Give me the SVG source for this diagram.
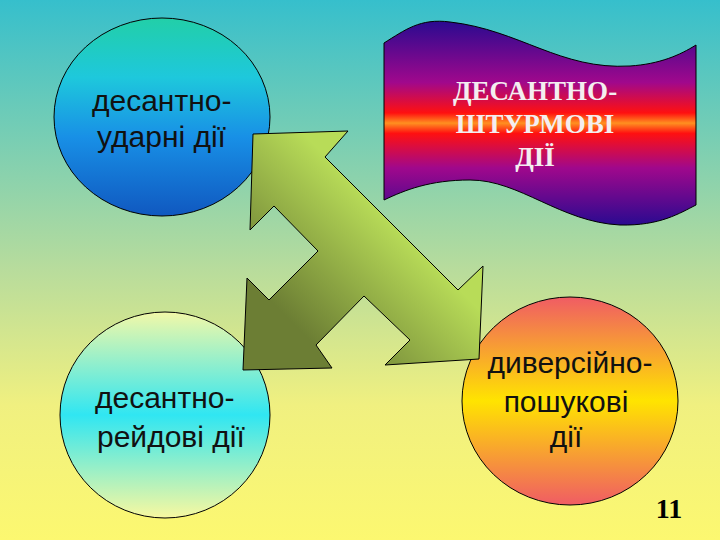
<svg xmlns="http://www.w3.org/2000/svg" width="720" height="540" viewBox="0 0 720 540">
<defs>
<linearGradient id="bg" x1="0" y1="0" x2="0" y2="1"><stop offset="0" stop-color="#36bfcc"/><stop offset="0.5" stop-color="#b8dc9c"/><stop offset="0.75" stop-color="#f0f080"/><stop offset="1" stop-color="#fcf870"/></linearGradient>
<linearGradient id="c1" x1="0" y1="0" x2="0" y2="1"><stop offset="0" stop-color="#22cfa8"/><stop offset="0.3" stop-color="#1ec8dc"/><stop offset="0.6" stop-color="#1890e6"/><stop offset="1" stop-color="#1058c0"/></linearGradient>
<linearGradient id="c2" x1="0" y1="0" x2="0" y2="1"><stop offset="0" stop-color="#f2f8a8"/><stop offset="0.5" stop-color="#30e6f2"/><stop offset="1" stop-color="#f8f8a0"/></linearGradient>
<linearGradient id="c3" x1="0" y1="0" x2="0" y2="1"><stop offset="0" stop-color="#f05c64"/><stop offset="0.5" stop-color="#ffe400"/><stop offset="1" stop-color="#f05c64"/></linearGradient>
<linearGradient id="ban" x1="0" y1="0" x2="0" y2="1"><stop offset="0" stop-color="#2a0a90"/><stop offset="0.3" stop-color="#a0088c"/><stop offset="0.45" stop-color="#ff1010"/><stop offset="0.5" stop-color="#ff9020"/><stop offset="0.55" stop-color="#ff1010"/><stop offset="0.72" stop-color="#a0088c"/><stop offset="1" stop-color="#2a0a90"/></linearGradient>
<linearGradient id="arr" x1="300" y1="330" x2="400" y2="230" gradientUnits="userSpaceOnUse"><stop offset="0" stop-color="#6c7e34"/><stop offset="1" stop-color="#b8dc58"/></linearGradient>
<style>
.c{stroke:#000;stroke-width:1}
.s{font-family:"Liberation Sans",Arial,sans-serif;font-size:30px;fill:#111}
.b{font-family:"Liberation Serif","Times New Roman",serif;font-size:27px;font-weight:bold;fill:#f4eef0;text-anchor:middle}
</style>
</defs>
<rect width="720" height="540" fill="url(#bg)"/>
<g id="n1"><ellipse class="c" cx="162" cy="117" rx="108" ry="99" fill="url(#c1)"/>
<text class="s" x="92" y="111">десантно-</text><text class="s" x="97" y="147">ударні дії</text></g>
<g id="n2"><ellipse class="c" cx="165" cy="415" rx="105" ry="103" fill="url(#c2)"/>
<text class="s" x="95" y="408">десантно-</text><text class="s" x="97" y="447">рейдові дії</text></g>
<g id="n3"><ellipse class="c" cx="570" cy="401" rx="108" ry="104" fill="url(#c3)"/>
<text class="s" x="570" y="373" text-anchor="middle">диверсійно-</text><text class="s" x="566" y="412" text-anchor="middle">пошукові</text><text class="s" x="566" y="447" text-anchor="middle">дії</text></g>
<g id="n4"><path class="c" d="M384 43 C405 30 420 18 450 22 C520 30 560 70 630 66 C660 64 680 55 696 45 L696 205 C680 213 660 226 620 225 C560 222 520 180 470 180 C430 180 405 190 384 200 Z" fill="url(#ban)"/>
<text class="b" x="535" y="100">ДЕСАНТНО-</text><text class="b" x="535" y="133">ШТУРМОВІ</text><text class="b" x="535" y="166">ДІЇ</text></g>
<g id="connectors"><path class="c" d="M253 134 L348 131 L325 157 L458 290 L483 266 L479 359 L385 365 L410 340 L364 296 L316 345 L332 368 L243 370 L247 278 L269 300 L318 251 L274 206 L250 230 Z" fill="url(#arr)"/></g>
<text x="669" y="518" font-family="Liberation Serif,serif" font-size="28" font-weight="bold" fill="#000" text-anchor="middle">11</text>
</svg>
